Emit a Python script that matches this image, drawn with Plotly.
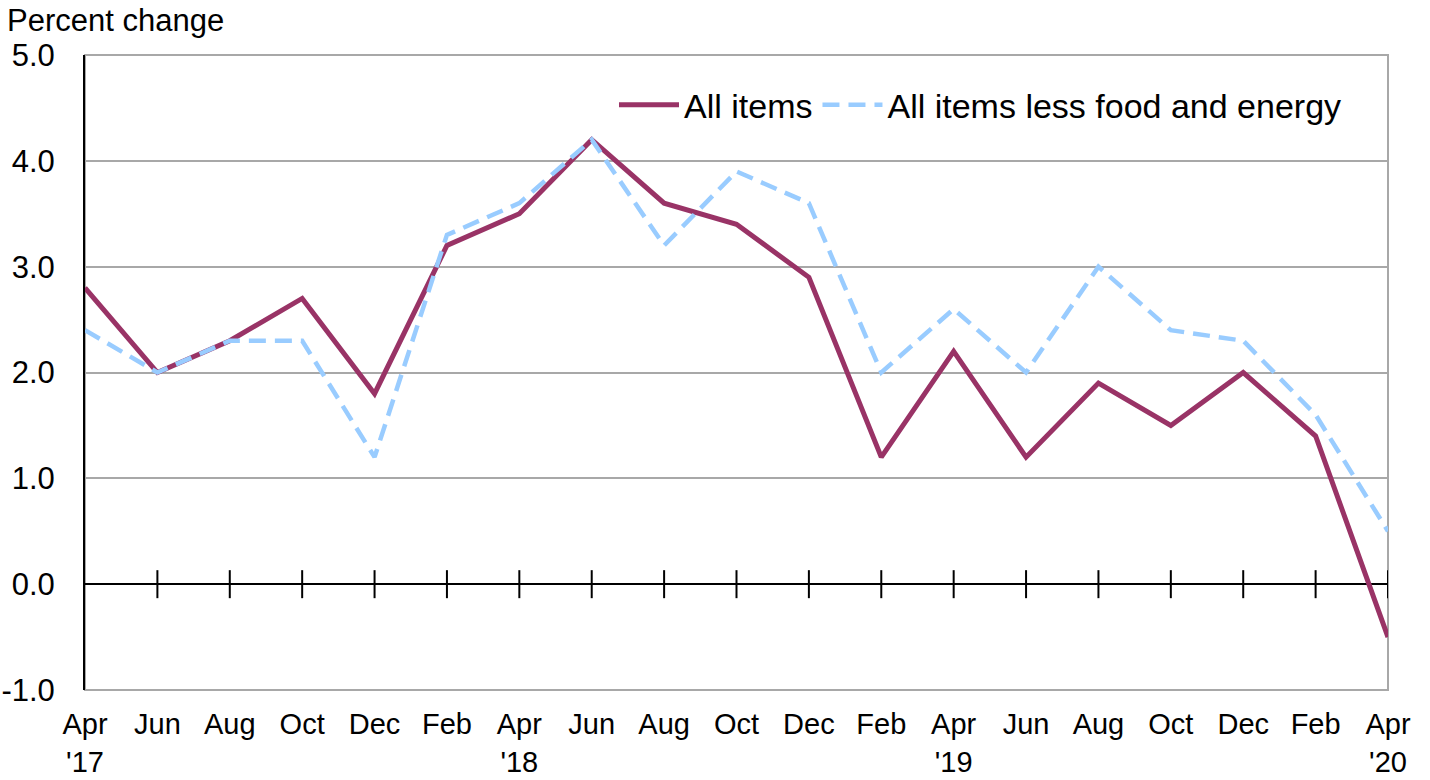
import plotly.graph_objects as go

months = ["Apr '17", "Jun '17", "Aug '17", "Oct '17", "Dec '17", "Feb '18", "Apr '18",
          "Jun '18", "Aug '18", "Oct '18", "Dec '18", "Feb '19", "Apr '19", "Jun '19",
          "Aug '19", "Oct '19", "Dec '19", "Feb '20", "Apr '20"]
tick_labels = ["Apr<br>'17", "Jun", "Aug", "Oct", "Dec", "Feb", "Apr<br>'18", "Jun", "Aug",
               "Oct", "Dec", "Feb", "Apr<br>'19", "Jun", "Aug", "Oct", "Dec", "Feb", "Apr<br>'20"]
all_items = [2.8, 2.0, 2.3, 2.7, 1.8, 3.2, 3.5, 4.2, 3.6, 3.4, 2.9, 1.2, 2.2, 1.2, 1.9, 1.5, 2.0, 1.4, -0.5]
core = [2.4, 2.0, 2.3, 2.3, 1.2, 3.3, 3.6, 4.2, 3.2, 3.9, 3.6, 2.0, 2.6, 2.0, 3.0, 2.4, 2.3, 1.6, 0.5]
y_ticks = [-1, 0, 1, 2, 3, 4, 5]
y_tick_labels = ["-1.0", "0.0", "1.0", "2.0", "3.0", "4.0", "5.0"]

FONT = "Liberation Sans, Arial, sans-serif"

fig = go.Figure()

# tick marks crossing the zero line
fig.add_trace(go.Scatter(
    x=months[1:], y=[0] * (len(months) - 1), mode="markers",
    marker=dict(symbol="line-ns", size=20, line=dict(width=2, color="black")),
    showlegend=False, hoverinfo="skip"))

fig.add_trace(go.Scatter(
    x=months, y=all_items, mode="lines", name="All items",
    line=dict(color="#993366", width=5)))
fig.add_trace(go.Scatter(
    x=months, y=core, mode="lines", name="All items less food and energy",
    line=dict(color="#99CCFF", width=4.5, dash="17px,9px")))

fig.add_shape(type="rect", xref="paper", yref="paper", x0=0, x1=1, y0=0, y1=1,
              line=dict(color="#a8a8a8", width=2), layer="below")

fig.update_layout(
    width=1430, height=780,
    margin=dict(l=85, r=42, t=55, b=90, autoexpand=False),
    plot_bgcolor="white", paper_bgcolor="white",
    font=dict(family=FONT, color="black", size=28),
    xaxis=dict(type="category", categoryorder="array", categoryarray=months,
               tickmode="array", tickvals=months, ticktext=tick_labels,
               range=[0, len(months) - 1], showgrid=False, zeroline=False,
               showline=False, ticks="", ticklabelstandoff=14, automargin=False,
               tickfont=dict(size=29, family=FONT)),
    yaxis=dict(range=[-1, 5], tickmode="array", tickvals=y_ticks, ticktext=y_tick_labels,
               showgrid=True, gridcolor="#a8a8a8", gridwidth=2,
               zeroline=True, zerolinecolor="black", zerolinewidth=2,
               showline=True, linecolor="black", linewidth=2, ticks="",
               ticklabelstandoff=22, automargin=False,
               tickfont=dict(size=31, family=FONT)),
    legend=dict(orientation="h", x=1262 / 1303, xanchor="right", y=0.921, yanchor="middle",
                font=dict(size=34, family=FONT), bgcolor="rgba(0,0,0,0)",
                itemwidth=60, entrywidthmode="pixels"),
    annotations=[dict(text="Percent change", xref="paper", yref="paper",
                      x=-80 / 1303, y=1 + 35 / 635, xanchor="left", yanchor="middle",
                      showarrow=False, font=dict(size=31, family=FONT))],
)

fig.write_html("out.html", config={"displayModeBar": False},
               post_script="document.body.style.margin='0';")
